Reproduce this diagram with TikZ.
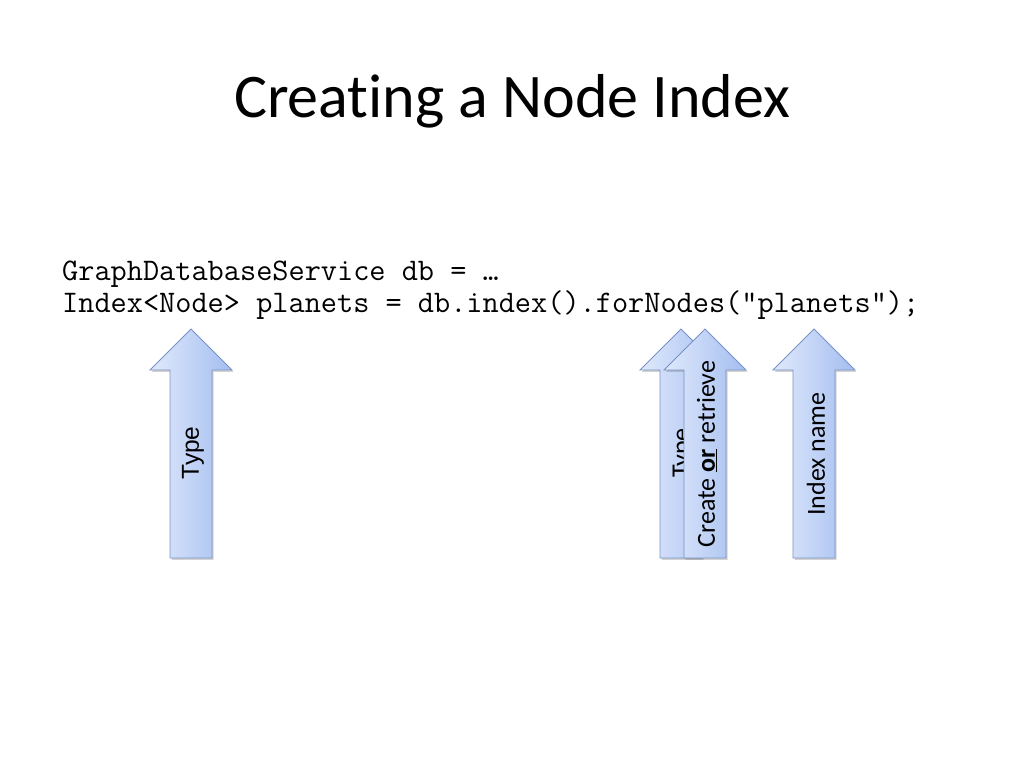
\documentclass[tikz,border=0pt]{standalone}
\usepackage{fontspec}
\setmainfont{Carlito}[Ligatures=NoCommon]
\newfontfamily\typefont{Liberation Sans}
\usetikzlibrary{shadows}
\definecolor{arrowlight}{RGB}{224,233,252}
\definecolor{arrowdark}{RGB}{164,190,240}
\definecolor{arrowedge}{RGB}{120,146,198}
% one upward block arrow: centre x, tip y, head base y, bottom y
\newcommand{\blockarrow}[4]{%
  \draw[arrowedge, line width=0.8pt, left color=arrowlight, right color=arrowdark,
        drop shadow={shadow xshift=1.5pt, shadow yshift=-2pt, opacity=0.35}]
    (#1-21,#4) -- (#1-21,#3) -- (#1-41,#3) -- (#1,#2) -- (#1+41,#3)
    -- (#1+21,#3) -- (#1+21,#4) -- cycle;}
\begin{document}
\begin{tikzpicture}[x=1pt,y=1pt]
  \useasboundingbox (0,0) rectangle (1024,768);
  \node[anchor=base] (title) at(512,650) {\fontsize{62}{70}\selectfont Creating a Node Index};
  \node[anchor=base west, inner sep=0pt] (line1) at(62,487) {\ttfamily\fontsize{31.4}{32}\selectfont GraphDatabaseService db = …};
  \node[anchor=base west, inner sep=0pt] (line2) at(62,455) {\ttfamily\fontsize{31.4}{32}\selectfont Index<Node> planets = db.index().forNodes("planets");};
  % arrows under the code
  \blockarrow{191}{439}{398}{210}
  \node[rotate=90, font=\typefont\fontsize{24.5}{27}\selectfont] (type) at(193,315) {Type};
  \blockarrow{681}{439}{398}{210}
  \node[rotate=90] (typeback) at(683,315) {\fontsize{26}{28}\selectfont Type};
  \blockarrow{705}{439}{398}{210}
  \node[rotate=90] (create) at(707,314) {\fontsize{26}{28}\selectfont Create \underline{\textbf{or}} retrieve};
  \blockarrow{814}{439}{398}{210}
  \node[rotate=90] (indexname) at(816,314) {\fontsize{26}{28}\selectfont Index name};
\end{tikzpicture}
\end{document}
